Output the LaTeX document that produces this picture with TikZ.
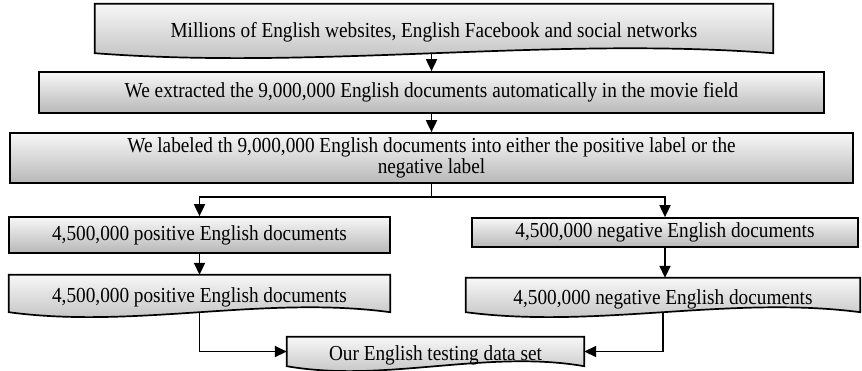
\documentclass[tikz,border=0pt]{standalone}
\usepackage{fontspec}
\setmainfont[FakeStretch=0.9]{Liberation Serif}
\usetikzlibrary{arrows.meta,calc,backgrounds}

\tikzset{
  box/.style={inner sep=0pt, align=center,
    font=\fontsize{21.4}{21.5}\selectfont},
  % text in the wavy boxes sits a little lower
  docnode/.style={box, text height=20pt, text depth=2pt},
  boxfill/.style={draw=black, line width=1.7pt,
    top color=black!3, bottom color=black!28},
  link/.style={line width=1.8pt, -{Triangle[width=11pt,length=12pt]}},
  plain/.style={line width=1.8pt},
}

% document shape: flat top, wavy bottom edge
\newcommand\docbox[1]{%
  \path[boxfill] (#1.south east) -- (#1.north east) -- (#1.north west) -- (#1.south west)
    .. controls ($(#1.south west)!0.33!(#1.south east)+(0pt,-17pt)$)
           and ($(#1.south west)!0.67!(#1.south east)+(0pt,17pt)$) .. (#1.south east) -- cycle;}

\begin{document}
\begin{tikzpicture}[x=1pt,y=-1pt]
\useasboundingbox (0,0) rectangle (862,370);

% nodes
\node[docnode, minimum width=678pt, minimum height=49pt] (b1) at (434,28.5)
  {Millions of English websites, English Facebook and social networks};
\node[box, boxfill, minimum width=785pt, minimum height=41pt] (b2) at (431.5,92.5)
  {We extracted the 9,000,000 English documents automatically in the movie field};
\node[box, boxfill, minimum width=843pt, minimum height=50pt] (b3) at (431.5,158)
  {We labeled th 9,000,000 English documents into either the positive label or the\\negative label};
\node[box, boxfill, minimum width=381pt, minimum height=36pt] (b4) at (199.5,235)
  {4,500,000 positive English documents};
\node[box, boxfill, minimum width=386pt, minimum height=29pt] (b5) at (665,232.5)
  {4,500,000 negative English documents};
\node[docnode, minimum width=381pt, minimum height=37pt] (b6) at (199.5,293.5)
  {4,500,000 positive English documents};
\node[docnode, minimum width=394pt, minimum height=34pt] (b7) at (663,295)
  {4,500,000 negative English documents};
\node[docnode, minimum width=297pt, minimum height=29pt] (b8) at (435.5,351.5)
  {Our English testing data set};

\begin{scope}[on background layer]
  \docbox{b1}
  \docbox{b6}
  \docbox{b7}
  \docbox{b8}
\end{scope}

% connectors
\coordinate (split) at (431.5,197);
\draw[link] (b2.north |- b1.south) -- (b2.north);
\draw[link] (b2.south) -- (b3.north);
\draw[plain] (b3.south) -- (split);
\draw[link] (split) -| (b4.north);
\draw[link] (split) -| (b5.north);
\draw[link] (b4.south) -- (b6.north);
\draw[link] (b5.south) -- (b5.south |- b7.north);
\draw[link] (b6.south) |- (b8.west);
\draw[link] (b7.south) |- (b8.east);
\end{tikzpicture}
\end{document}
